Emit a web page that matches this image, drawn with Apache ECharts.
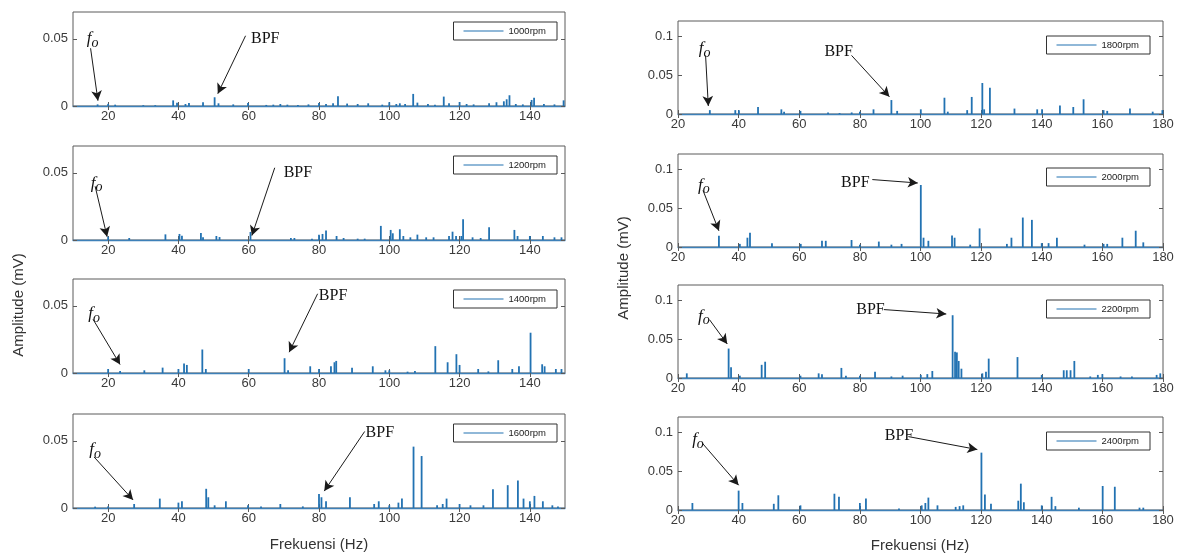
<!DOCTYPE html>
<html>
<head>
<meta charset="utf-8">
<title>Spektrum getaran pompa</title>
<script src="https://cdn.jsdelivr.net/npm/echarts@6/dist/echarts.min.js"></script>
<style>
  html, body { margin: 0; padding: 0; background: #ffffff; }
  #chart { width: 1184px; height: 557px; }
</style>
</head>
<body>
<div id="chart"></div>
<script>
// ---- data: spectral peaks [frequency (Hz), amplitude (mV)] per rotor speed ----
const rpmLabels = ['1000rpm', '1200rpm', '1400rpm', '1600rpm', '1800rpm', '2000rpm', '2200rpm', '2400rpm'];

const peaks1000 = [[17,0.0012],[20,0.0016],[22,0.001],[30,0.0006],[33.4,0.0006],[38.5,0.0042],[39.6,0.0025],[42,0.0015],[43,0.0022],[47,0.0028],[50.3,0.0065],[51.4,0.002],[55.6,0.0012],[59.8,0.0022],[65,0.0008],[67,0.001],[69,0.0015],[71,0.001],[74,0.0008],[77,0.0012],[80,0.0022],[82,0.0015],[84,0.002],[85.4,0.0072],[88,0.0018],[91,0.0015],[94,0.002],[98,0.001],[100,0.0028],[102,0.0015],[103,0.002],[104.5,0.0015],[106.8,0.009],[108,0.0025],[111,0.0015],[113,0.001],[115.5,0.007],[117,0.002],[120,0.003],[122,0.0015],[124,0.0012],[128.4,0.002],[130.5,0.0028],[132.6,0.0035],[133.4,0.005],[134.2,0.008],[136,0.0015],[138,0.0012],[140.5,0.0045],[141.2,0.0062],[144,0.0015],[147,0.0012],[149.6,0.0042]];
const peaks1200 = [[20,0.0025],[26,0.0015],[36.3,0.0042],[40.3,0.0045],[41,0.0032],[46.4,0.0052],[47,0.002],[50.8,0.003],[51.7,0.0022],[60.5,0.006],[72,0.0015],[73,0.0015],[78,0.001],[80,0.004],[81,0.0045],[82,0.007],[85,0.003],[87,0.0015],[91,0.001],[93,0.001],[97.6,0.0105],[100.4,0.0075],[101,0.005],[103,0.008],[104,0.003],[106,0.002],[108,0.004],[110.5,0.002],[112.6,0.002],[117,0.003],[118,0.0062],[119,0.003],[120.5,0.003],[121,0.0155],[123.7,0.002],[126,0.0015],[128.4,0.0095],[135.6,0.0075],[136.5,0.003],[140,0.003],[143.7,0.003],[147,0.002],[149,0.002]];
const peaks1400 = [[20,0.003],[23.4,0.0015],[30.3,0.002],[35.5,0.004],[40,0.003],[41.6,0.007],[42.4,0.006],[46.8,0.0175],[47.8,0.003],[60,0.003],[70.2,0.011],[71.2,0.002],[77.5,0.005],[80,0.003],[83.4,0.005],[84.4,0.008],[84.9,0.009],[89.4,0.004],[95.3,0.005],[98.9,0.002],[100,0.002],[105.2,0.001],[107.3,0.0015],[113.1,0.020],[116.6,0.008],[119.1,0.014],[120,0.006],[125.3,0.003],[128.2,0.0012],[131,0.0095],[135,0.003],[136.9,0.005],[140.2,0.030],[143.5,0.0065],[144.2,0.005],[147.4,0.003],[149,0.003]];
const peaks1600 = [[16.3,0.001],[20,0.0012],[27.4,0.003],[34.7,0.007],[40,0.004],[41,0.005],[47.9,0.0143],[48.5,0.008],[50.3,0.002],[53.5,0.005],[59.8,0.002],[63.5,0.0012],[69,0.003],[75.4,0.0012],[80,0.0105],[80.7,0.008],[82,0.005],[88.8,0.008],[95.7,0.003],[97,0.005],[100,0.002],[102.6,0.004],[103.6,0.007],[106.9,0.0457],[109.2,0.0387],[113.6,0.002],[115.2,0.003],[116.3,0.007],[120,0.003],[123.1,0.002],[126.8,0.002],[129.5,0.014],[133.7,0.017],[136.6,0.0205],[138.2,0.007],[140,0.005],[141.3,0.009],[143.7,0.005],[146.4,0.002],[148,0.0012]];
const peaks1800 = [[30.5,0.005],[38.9,0.005],[40.1,0.005],[46.4,0.009],[54.1,0.006],[55,0.003],[60.4,0.004],[69.5,0.002],[73.3,0.0012],[77.3,0.002],[80,0.003],[84.5,0.006],[90.4,0.018],[92.3,0.004],[100.1,0.006],[107.9,0.021],[109,0.003],[115.4,0.005],[116.9,0.022],[120.4,0.040],[121,0.006],[122.9,0.034],[131,0.007],[138.5,0.006],[140.1,0.006],[146,0.011],[150.4,0.009],[153.8,0.019],[160.4,0.005],[161.6,0.004],[169.1,0.007],[176.6,0.003],[179.8,0.005]];
const peaks2000 = [[33.5,0.0145],[40.4,0.004],[42.9,0.012],[43.75,0.0185],[51,0.005],[60.5,0.004],[67.5,0.008],[68.75,0.008],[77.25,0.009],[80,0.003],[86.25,0.007],[90.4,0.003],[93.75,0.004],[100.1,0.080],[101,0.012],[102.6,0.008],[110.4,0.015],[111.25,0.012],[116.4,0.003],[119.5,0.024],[128.5,0.004],[130,0.012],[133.75,0.038],[136.75,0.035],[140,0.005],[142.25,0.005],[145,0.012],[154.1,0.003],[160.4,0.004],[161.6,0.004],[166.6,0.012],[171,0.021],[173.5,0.006]];
const peaks2200 = [[22.9,0.006],[36.7,0.038],[37.5,0.014],[40.4,0.003],[47.6,0.017],[48.75,0.021],[60.4,0.003],[66.4,0.006],[67.5,0.005],[73.9,0.013],[75.4,0.003],[80,0.003],[85,0.008],[90.4,0.002],[94.1,0.003],[100.1,0.004],[102.25,0.005],[103.9,0.009],[110.6,0.081],[111.4,0.034],[112,0.033],[112.6,0.022],[113.5,0.012],[120.4,0.006],[121.6,0.008],[122.5,0.025],[132,0.027],[140,0.004],[147.25,0.010],[148.25,0.010],[149.5,0.010],[150.75,0.022],[156,0.002],[158.5,0.004],[160,0.005],[166,0.002],[169.75,0.002],[177.9,0.004],[179.1,0.006]];
const peaks2400 = [[24.75,0.009],[40,0.025],[41.25,0.009],[51.6,0.008],[53.1,0.019],[60.4,0.006],[71.6,0.021],[73.1,0.017],[80,0.009],[82,0.015],[92.9,0.002],[100.4,0.006],[101.6,0.009],[102.6,0.016],[105.6,0.006],[111.6,0.004],[112.9,0.005],[114.1,0.006],[120.1,0.074],[121.25,0.020],[123.25,0.008],[132.25,0.012],[133.1,0.034],[134.1,0.010],[140,0.006],[143.25,0.017],[144.5,0.005],[152.25,0.003],[160.1,0.031],[164.1,0.030],[172.25,0.003],[173.5,0.003]];

const peakSets = [peaks1000, peaks1200, peaks1400, peaks1600, peaks1800, peaks2000, peaks2200, peaks2400];

// axis ranges and tick labels
const leftXRange = [10, 150];
const rightXRange = [20, 180];
const leftXTicks = [20, 40, 60, 80, 100, 120, 140];
const rightXTicks = [20, 40, 60, 80, 100, 120, 140, 160, 180];
const leftYMax = 0.07;
const rightYMax = 0.12;
const leftYTicks = [0, 0.05];
const rightYTicks = [0, 0.05, 0.1];

// annotations in data units: label anchor, arrow start, arrow tip
const foLabel = [[15.6,0.050],[16.7,0.0424],[16.0,0.044],[16.3,0.0432],[28.8,0.0842],[28.5,0.0796],[28.5,0.0796],[26.6,0.0912]];
const foArrow = [
  [[15.0,0.043],[17.1,0.0040]], [[16.3,0.040],[19.7,0.0025]], [[15.7,0.040],[23.4,0.0063]], [[16.0,0.038],[27.1,0.0060]],
  [[29.1,0.0756],[30.0,0.0103]], [[28.25,0.073],[33.5,0.0209]], [[30.4,0.0752],[36.25,0.0439]], [[27.9,0.0868],[40.0,0.032]]
];
const bpfLabel = [[64.7,0.050],[74.0,0.050],[84.0,0.0575],[97.3,0.0558],[73.0,0.080],[78.5,0.083],[83.5,0.0883],[92.9,0.0956]];
const bpfArrow = [
  [[59.1,0.0523],[51.2,0.0092]], [[67.4,0.0538],[60.9,0.0033]], [[79.6,0.059],[71.5,0.0155]], [[93.0,0.057],[81.5,0.0126]],
  [[77.25,0.0756],[89.75,0.0222]], [[84.1,0.087],[99.1,0.0826]], [[87.9,0.0883],[108.5,0.0826]], [[96.0,0.0947],[118.75,0.078]]
];

// ---- layout ----
const SANS = "'Liberation Sans', Arial, sans-serif";
const SERIF = "'Liberation Serif', 'Times New Roman', serif";
const AXIS_COLOR = '#5a5a5a';
const LABEL_COLOR = '#3a3a3a';
const LINE_COLOR = '#2272b2';

const leftCol = { left: 73, width: 492, height: 94, tops: [12, 146, 279, 414], legendRight: 627, legendTops: [22, 156, 290, 424] };
const rightCol = { left: 678, width: 485, height: 93, tops: [21, 154, 285, 417], legendRight: 34, legendTops: [36, 168, 300, 432] };

const grids = [], xAxes = [], yAxes = [], series = [], legends = [];

function fmtY(v) { return v === 0 ? '0' : String(+v.toFixed(2)); }

for (let i = 0; i < 8; i++) {
  const isLeft = i < 4;
  const col = isLeft ? leftCol : rightCol;
  const row = i % 4;
  const xr = isLeft ? leftXRange : rightXRange;
  const xt = isLeft ? leftXTicks : rightXTicks;
  const ymax = isLeft ? leftYMax : rightYMax;
  const yt = isLeft ? leftYTicks : rightYTicks;

  grids.push({
    left: col.left, top: col.tops[row], width: col.width, height: col.height,
    show: true, borderColor: AXIS_COLOR, borderWidth: 1, backgroundColor: '#ffffff'
  });

  // bottom axis (labelled) and top axis (ticks only)
  xAxes.push({
    type: 'value', gridIndex: i, position: 'bottom', min: xr[0], max: xr[1],
    axisLine: { show: true, onZero: false, lineStyle: { color: '#3d80b8', width: 1.3 } },
    axisTick: { show: true, inside: true, length: 4, customValues: xt, lineStyle: { color: AXIS_COLOR } },
    axisLabel: { show: true, customValues: xt, margin: 4, fontSize: 13, fontFamily: SANS, color: LABEL_COLOR },
    splitLine: { show: false }
  });
  xAxes.push({
    type: 'value', gridIndex: i, position: 'top', min: xr[0], max: xr[1],
    axisLine: { show: false },
    axisTick: { show: true, inside: true, length: 4, customValues: xt, lineStyle: { color: AXIS_COLOR } },
    axisLabel: { show: false }, splitLine: { show: false }
  });
  yAxes.push({
    type: 'value', gridIndex: i, position: 'left', min: 0, max: ymax,
    axisLine: { show: false },
    axisTick: { show: true, inside: true, length: 4, customValues: yt, lineStyle: { color: AXIS_COLOR } },
    axisLabel: { show: true, customValues: yt, margin: 5, fontSize: 13, fontFamily: SANS, color: LABEL_COLOR, formatter: fmtY },
    splitLine: { show: false }
  });
  yAxes.push({
    type: 'value', gridIndex: i, position: 'right', min: 0, max: ymax,
    axisLine: { show: false },
    axisTick: { show: true, inside: true, length: 4, customValues: yt, lineStyle: { color: AXIS_COLOR } },
    axisLabel: { show: false }, splitLine: { show: false }
  });

  series.push({
    type: 'bar', name: rpmLabels[i],
    xAxisIndex: 2 * i, yAxisIndex: 2 * i,
    data: peakSets[i],
    barWidth: 1.8,
    itemStyle: { color: LINE_COLOR },
    silent: true,
    markLine: {
      silent: true, animation: false,
      symbol: ['none', 'arrow'], symbolSize: [8, 10],
      lineStyle: { color: '#1a1a1a', width: 1, type: 'solid' },
      label: { show: false },
      data: [
        [{ coord: foArrow[i][0] }, { coord: foArrow[i][1] }],
        [{ coord: bpfArrow[i][0] }, { coord: bpfArrow[i][1] }]
      ]
    },
    markPoint: {
      silent: true, animation: false, symbol: 'circle', symbolSize: 1,
      itemStyle: { color: 'rgba(0,0,0,0)' },
      data: [
        {
          coord: foLabel[i],
          label: {
            show: true, position: 'inside', formatter: '{f|f}{o|o}',
            rich: {
              f: { fontFamily: SERIF, fontStyle: 'italic', fontSize: 17, color: '#111' },
              o: { fontFamily: SERIF, fontStyle: 'italic', fontSize: 14, color: '#111', padding: [9, 0, 0, 0] }
            }
          }
        },
        {
          coord: bpfLabel[i],
          label: { show: true, position: 'inside', formatter: 'BPF', fontFamily: SERIF, fontSize: 16, color: '#111' }
        }
      ]
    }
  });

  legends.push({
    data: [{ name: rpmLabels[i], icon: 'rect' }],
    right: col.legendRight, top: col.legendTops[row],
    orient: 'horizontal', selectedMode: false,
    itemWidth: 40, itemHeight: 1.2,
    padding: [4, 11, 4, 10],
    borderColor: '#333333', borderWidth: 1, backgroundColor: '#ffffff',
    textStyle: { fontSize: 9.5, fontFamily: SANS, color: '#222' }
  });
}

const option = {
  animation: false,
  backgroundColor: '#ffffff',
  grid: grids,
  xAxis: xAxes,
  yAxis: yAxes,
  legend: legends,
  series: series,
  graphic: [
    { type: 'text', x: 319, y: 545, style: { text: 'Frekuensi (Hz)', font: "15px 'Liberation Sans', Arial, sans-serif", fill: '#333', textAlign: 'center', textVerticalAlign: 'middle' } },
    { type: 'text', x: 920, y: 546, style: { text: 'Frekuensi (Hz)', font: "15px 'Liberation Sans', Arial, sans-serif", fill: '#333', textAlign: 'center', textVerticalAlign: 'middle' } },
    { type: 'text', x: 19, y: 305, rotation: Math.PI / 2, style: { text: 'Amplitude (mV)', font: "15px 'Liberation Sans', Arial, sans-serif", fill: '#333', textAlign: 'center', textVerticalAlign: 'middle' } },
    { type: 'text', x: 624, y: 268, rotation: Math.PI / 2, style: { text: 'Amplitude (mV)', font: "15px 'Liberation Sans', Arial, sans-serif", fill: '#333', textAlign: 'center', textVerticalAlign: 'middle' } }
  ]
};

const chart = echarts.init(document.getElementById('chart'), null, { renderer: 'canvas' });
chart.setOption(option);
</script>
</body>
</html>
